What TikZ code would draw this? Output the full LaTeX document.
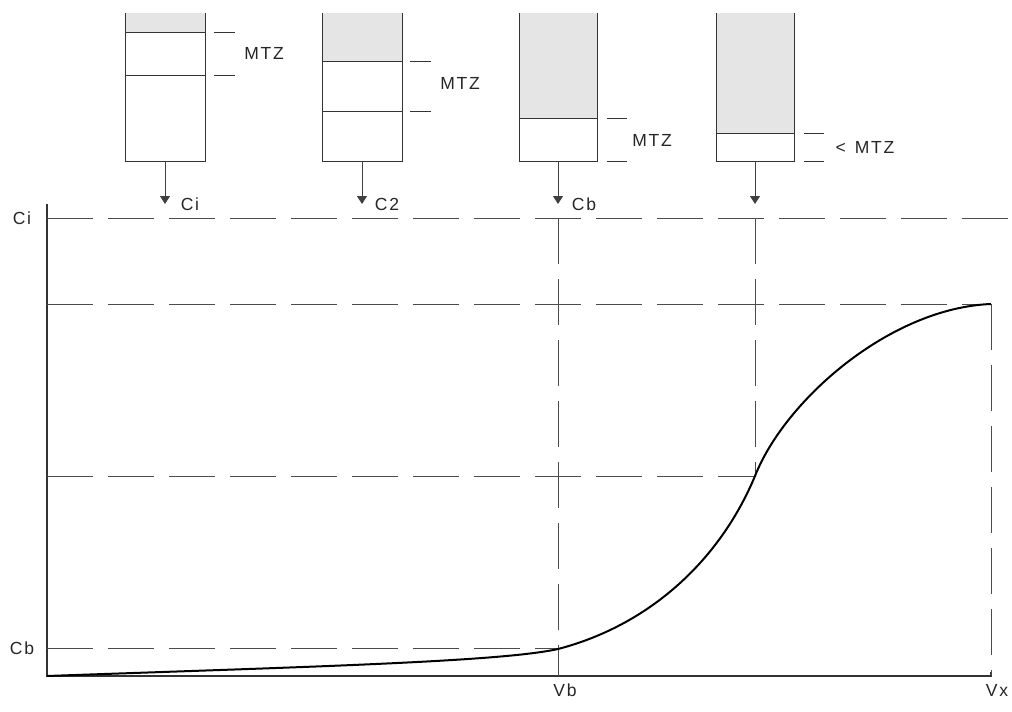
\documentclass[tikz,border=0pt]{standalone}
\usepackage{fontspec}
\newfontfamily\labfont[LetterSpace=10]{Liberation Sans}
\usetikzlibrary{arrows.meta}
\begin{document}
\begin{tikzpicture}[x=1pt,y=-1pt,
  lab/.style={font=\labfont\fontsize{17.5}{20}\selectfont, inner sep=0pt, text=black!85},
  dline/.style={draw=black!70, line width=0.9pt, dash pattern=on 46pt off 15pt},
  axis/.style={draw=black!80, line width=1.3pt},
  boxline/.style={draw=black!80, line width=0.9pt},
  tick/.style={draw=black!80, line width=0.9pt},
  arr/.style={draw=black!75, line width=0.9pt, -{Triangle[length=8pt,width=10pt]}},
  shade/.style={fill=black!10},
  curve/.style={draw=black, line width=2pt}
]
\useasboundingbox (0,0) rectangle (1012,712);

% ---------- boxes ----------
% box 1
\fill[shade] (125,13) rectangle (205,32);
\draw[boxline] (125,13) -- (125,161) -- (205,161) -- (205,13);
\draw[boxline] (125,32) -- (205,32);
\draw[boxline] (125,75) -- (205,75);
\draw[tick] (214,32) -- (235,32);
\draw[tick] (214,75) -- (235,75);
\node[lab] (m1) at (264,53) {MTZ};
% box 2
\fill[shade] (322,13) rectangle (402,61);
\draw[boxline] (322,13) -- (322,161) -- (402,161) -- (402,13);
\draw[boxline] (322,61) -- (402,61);
\draw[boxline] (322,111) -- (402,111);
\draw[tick] (410,61) -- (431,61);
\draw[tick] (410,111) -- (431,111);
\node[lab] (m2) at (460,83) {MTZ};
% box 3
\fill[shade] (519,13) rectangle (597,118);
\draw[boxline] (519,13) -- (519,161) -- (597,161) -- (597,13);
\draw[boxline] (519,118) -- (597,118);
\draw[tick] (607,118) -- (627,118);
\draw[tick] (607,161) -- (627,161);
\node[lab] (m3) at (652,140) {MTZ};
% box 4
\fill[shade] (716,13) rectangle (794,133);
\draw[boxline] (716,13) -- (716,161) -- (794,161) -- (794,13);
\draw[boxline] (716,133) -- (794,133);
\draw[tick] (804,133) -- (824,133);
\draw[tick] (804,161) -- (824,161);
\node[lab] (m4) at (865,147) {<\hspace{9pt}MTZ};

% ---------- arrows ----------
\coordinate (b1) at (165,161);
\coordinate (b2) at (362,161);
\coordinate (b3) at (558,161);
\coordinate (b4) at (755,161);
\coordinate (t1) at (165,204);
\coordinate (t2) at (362,204);
\coordinate (t3) at (558,204);
\coordinate (t4) at (755,204);
\draw[arr] (b1) -- (t1);
\draw[arr] (b2) -- (t2);
\draw[arr] (b3) -- (t3);
\draw[arr] (b4) -- (t4);
\node[lab] (c1) at (190,204) {Ci};
\node[lab] (c2) at (387,204) {C2};
\node[lab] (c3) at (584,204) {Cb};

% ---------- axes ----------
\coordinate (O) at (47,676);
\coordinate (Ytop) at (47,204);
\coordinate (Xend) at (991,676);
\draw[axis] (Ytop) -- (O) -- (Xend) -- ++(0,-4);

% ---------- dashed guides ----------
\coordinate (ci0) at (47,218);
\coordinate (ci1) at (1012,218);
\coordinate (h20) at (47,304);
\coordinate (h21) at (991,304);
\coordinate (h30) at (47,476);
\coordinate (h31) at (755,476);
\coordinate (cb0) at (47,648);
\coordinate (cb1) at (558,648);
\draw[dline] (ci0) -- (ci1);
\draw[dline] (h20) -- (h21);
\draw[dline] (h30) -- (h31);
\draw[dline] (cb0) -- (cb1);
\draw[dline] (558,218) -- (558,676);
\draw[dline] (755,218) -- (755,476);
\draw[dline] (991,304) -- (991,676);

% ---------- axis labels ----------
\node[lab] (lci) at (22,218) {Ci};
\node[lab] (lcb) at (22,648) {Cb};
\begin{scope}
\clip (0,0) rectangle (1012,696);
\node[lab] (lvb) at (565,690.5) {Vb};
\node[lab] (lvx) at (997,690.5) {Vx};
\end{scope}

% ---------- curve ----------
\draw[curve] (O) .. controls (300,667) and (500,662) .. (558,649)
  .. controls (650,625) and (720,560) .. (755,476)
  .. controls (785,400) and (890,308) .. (h21);
\end{tikzpicture}
\end{document}
